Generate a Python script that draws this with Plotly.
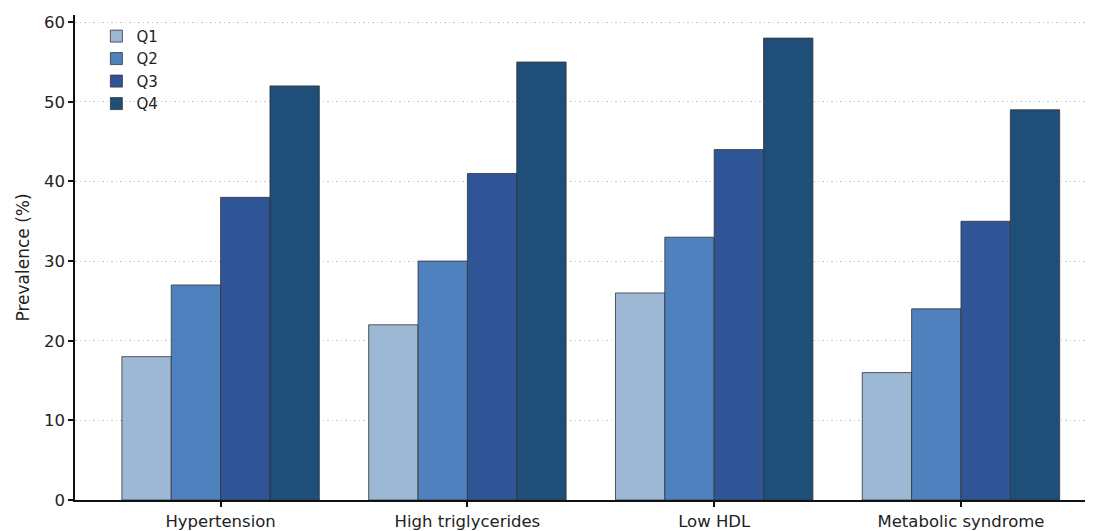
import plotly.graph_objects as go

categories = ["Hypertension", "High triglycerides", "Low HDL", "Metabolic syndrome"]
series_names = ["Q1", "Q2", "Q3", "Q4"]
q1 = [18, 22, 26, 16]
q2 = [27, 30, 33, 24]
q3 = [38, 41, 44, 35]
q4 = [52, 55, 58, 49]
values = [q1, q2, q3, q4]
colors = ["#9db8d4", "#4e81bd", "#2f5597", "#1f4e79"]
y_ticks = [0, 10, 20, 30, 40, 50, 60]

fig = go.Figure()
for name, vals, col in zip(series_names, values, colors):
    fig.add_trace(go.Bar(
        name=name, x=categories, y=vals,
        marker=dict(color=col, line=dict(color="#333333", width=0.8)),
    ))

font = "DejaVu Sans, Verdana, sans-serif"
fig.update_layout(
    width=1085, height=523,
    margin=dict(l=67, r=0, t=7, b=29),
    plot_bgcolor="white", paper_bgcolor="white",
    barmode="group", bargap=0.2, bargroupgap=0,
    font=dict(family=font, size=16, color="#222222"),
    legend=dict(x=0.021, y=0.99, xanchor="left", yanchor="top",
                bgcolor="rgba(255,255,255,0)", font=dict(size=15),
                tracegroupgap=0, itemwidth=30),
    showlegend=True,
)
fig.update_xaxes(
    range=[-0.59, 3.535], showline=True, linecolor="#111111", linewidth=1.5,
    ticks="outside", ticklen=5, tickwidth=1.5, tickcolor="#111111",
    showgrid=False, tickfont=dict(size=16.5),
)
fig.update_yaxes(
    range=[0, 60.9], tickvals=y_ticks, showline=True, linecolor="#111111", linewidth=1.5,
    ticks="outside", ticklen=5, tickwidth=1.5, tickcolor="#111111",
    showgrid=True, gridcolor="#c8c8c8", griddash="1.5px,3px", gridwidth=1,
    zeroline=False, tickfont=dict(size=16.5),
    title=dict(text="Prevalence (%)", font=dict(size=17), standoff=10),
)

fig.write_html("out.html")
